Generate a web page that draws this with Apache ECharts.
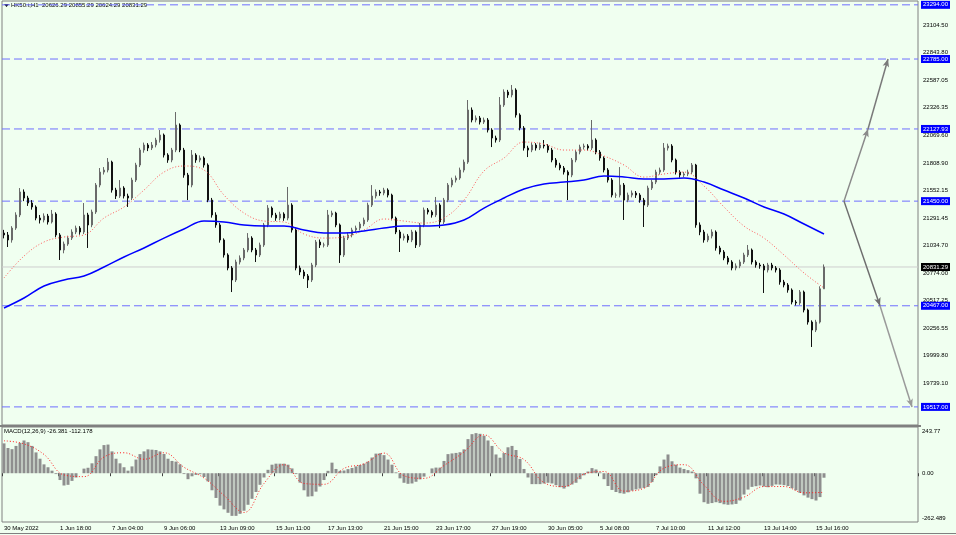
<!DOCTYPE html>
<html><head><meta charset="utf-8">
<script src="https://cdn.jsdelivr.net/npm/echarts@6/dist/echarts.min.js"></script>
<style>html,body{margin:0;padding:0;background:#f0fff0;}#c{width:956px;height:535px;}</style>
</head><body><div id="c"></div>
<script>
const symbolTitle = 'HK50.t,H1  20626.29 20855.29 20624.29 20831.29';
const macdTitle = 'MACD(12,26,9) -26.381 -112.178';
const timeLabels = ['30 May 2022','1 Jun 18:00','7 Jun 04:00','9 Jun 06:00','13 Jun 09:00','15 Jun 11:00','17 Jun 13:00','21 Jun 15:00','23 Jun 17:00','27 Jun 19:00','30 Jun 05:00','5 Jul 08:00','7 Jul 10:00','11 Jul 12:00','13 Jul 14:00','15 Jul 16:00'];
const timeLabelIdx = [0,14,27,40,54,68,81,95,108,122,136,149,163,176,190,203];
const slotCount = 229;
// [open, close, low, high]
const candles = [
[21150,21132,21100,21180],[21132,21085,21019,21160],[21085,21197,21060,21215],[21197,21320,21180,21345],[21320,21536,21300,21573],
[21536,21479,21450,21560],[21479,21432,21405,21500],[21432,21395,21370,21460],[21395,21291,21270,21410],[21291,21273,21240,21320],
[21273,21310,21250,21335],[21310,21254,21230,21330],[21254,21329,21240,21367],[21329,21132,21110,21345],[21132,20991,20897,21150],
[20991,21047,20960,21070],[21047,21103,21030,21125],[21103,21160,21085,21185],[21160,21197,21140,21220],[21197,21160,21135,21215],
[21160,21320,21140,21432],[21320,21226,21010,21340],[21226,21348,21205,21370],[21348,21601,21330,21620],[21601,21723,21580,21761],
[21723,21742,21700,21770],[21742,21817,21720,21855],[21817,21554,21530,21830],[21554,21498,21470,21575],[21498,21573,21480,21648],
[21573,21498,21475,21590],[21498,21479,21395,21520],[21479,21648,21460,21670],[21648,21789,21630,21810],[21789,21930,21770,21950],
[21930,21977,21905,22000],[21977,21949,21920,21995],[21949,21977,21930,22005],[21977,22024,21955,22045],[22024,22071,22000,22118],
[22071,21883,21860,22085],[21883,21836,21810,21900],[21836,21930,21815,21950],[21930,22165,21910,22287],[22165,21930,21910,22180],
[21930,21695,21670,21950],[21695,21601,21460,21715],[21601,21883,21580,21930],[21883,21836,21810,21900],[21836,21855,21815,21880],
[21855,21789,21765,21870],[21789,21460,21440,21805],[21460,21320,21295,21480],[21320,21226,21200,21345],[21226,21085,21060,21245],
[21085,20944,20920,21100],[20944,20822,20800,20960],[20822,20709,20596,20840],[20709,20878,20690,20900],[20878,20916,20855,20940],
[20916,20991,20895,21010],[20991,21103,20970,21150],[21103,20991,20970,21120],[20991,20944,20878,21010],[20944,21038,20925,21060],
[21038,21226,21020,21245],[21226,21385,21205,21413],[21385,21320,21295,21400],[21320,21291,21265,21340],[21291,21329,21270,21350],
[21329,21291,21265,21345],[21291,21413,21270,21583],[21413,21179,21155,21430],[21179,20822,20800,21195],[20822,20784,20755,20845],
[20784,20747,20720,20805],[20747,20709,20634,20765],[20709,20850,20690,20870],[20850,21066,20830,21085],[21066,21038,21010,21090],
[21038,21038,21015,21060],[21038,21320,21020,21367],[21320,21338,21300,21360],[21338,21226,21205,21350],[21226,20944,20869,21240],
[20944,21103,20925,21125],[21103,21132,21085,21155],[21132,21179,21110,21200],[21179,21197,21160,21220],[21197,21235,21175,21255],
[21235,21273,21215,21295],[21273,21413,21255,21435],[21413,21498,21395,21601],[21498,21536,21475,21560],[21536,21526,21500,21555],
[21526,21554,21505,21575],[21554,21507,21485,21570],[21507,21291,21270,21520],[21291,21160,21140,21305],[21160,21103,20972,21180],
[21103,21122,21080,21145],[21122,21085,21060,21140],[21085,21160,21065,21180],[21160,21038,21010,21175],[21038,21226,21020,21245],
[21226,21367,21205,21390],[21367,21348,21325,21385],[21348,21320,21295,21365],[21320,21413,21300,21489],[21413,21254,21197,21430],
[21254,21460,21235,21480],[21460,21601,21440,21620],[21601,21648,21580,21670],[21648,21667,21625,21690],[21667,21742,21650,21765],
[21742,21817,21720,21840],[21817,22306,21800,22400],[22306,22212,22190,22330],[22212,22231,22190,22255],[22231,22193,22170,22250],
[22193,22212,22175,22235],[22212,22118,22095,22230],[22118,22043,21958,22135],[22043,22024,22000,22065],[22024,22353,22005,22428],
[22353,22475,22335,22500],[22475,22447,22420,22495],[22447,22494,22425,22541],[22494,22259,22235,22510],[22259,22137,22115,22275],
[22137,21949,21925,22155],[21949,21930,21864,21970],[21930,21977,21910,22000],[21977,21949,21925,21995],[21949,21977,21930,22000],
[21977,21968,21945,22024],[21968,21930,21905,21985],[21930,21836,21815,21950],[21836,21789,21765,21855],[21789,21761,21740,21810],
[21761,21723,21700,21780],[21723,21695,21460,21740],[21695,21836,21675,21855],[21836,21911,21815,21930],[21911,21958,21890,21980],
[21958,21968,21935,21990],[21968,21949,21925,21985],[21949,22024,21930,22212],[22024,21911,21890,22040],[21911,21855,21830,21930],
[21855,21742,21720,21870],[21742,21648,21625,21760],[21648,21507,21485,21665],[21507,21507,21480,21530],[21507,21601,21485,21770],
[21601,21460,21273,21620],[21460,21507,21440,21530],[21507,21526,21485,21550],[21526,21507,21480,21545],[21507,21460,21435,21525],
[21460,21413,21207,21480],[21413,21573,21395,21595],[21573,21629,21555,21650],[21629,21723,21610,21745],[21723,21742,21700,21765],
[21742,21949,21725,21996],[21949,21968,21925,21990],[21968,21836,21815,21985],[21836,21723,21700,21850],[21723,21695,21670,21740],
[21695,21705,21675,21725],[21705,21723,21685,21745],[21723,21789,21705,21808],[21789,21226,21200,21800],[21226,21160,21130,21250],
[21160,21085,21060,21180],[21085,21122,21065,21145],[21122,21160,21100,21185],[21160,21010,20985,21175],[21010,20972,20950,21030],
[20972,20916,20895,20990],[20916,20878,20855,20935],[20878,20822,20800,20895],[20822,20841,20800,20865],[20841,20878,20820,20900],
[20878,20944,20860,20965],[20944,20991,20925,21038],[20991,20878,20855,21005],[20878,20850,20825,20895],[20850,20841,20815,20870],
[20841,20803,20587,20860],[20803,20850,20780,20870],[20850,20822,20800,20870],[20822,20803,20780,20840],[20803,20690,20665,20820],
[20690,20662,20640,20710],[20662,20615,20590,20680],[20615,20502,20480,20630],[20502,20493,20470,20520],[20493,20596,20475,20615],
[20596,20427,20405,20610],[20427,20314,20290,20440],[20314,20239,20080,20330],[20239,20314,20220,20335],[20314,20626.29,20300,20650],
[20626.29,20831.29,20624.29,20855.29]
];
const maStep = 5;
const maFast = [20728,20934,21066,21113,21132,21291,21395,21554,21723,21780,21742,21507,21338,21263,21254,21141,21103,21113,21179,21282,21263,21244,21291,21460,21733,21855,22005,21986,21930,21930,21874,21789,21676,21705,21723,21592,21395,21216,21103,20944,20775,20634];
const maSlow = [20446,20540,20653,20709,20747,20831,20925,21010,21103,21188,21263,21254,21226,21216,21216,21179,21150,21150,21169,21197,21216,21216,21226,21273,21385,21479,21564,21611,21629,21648,21686,21677,21658,21658,21667,21629,21554,21479,21395,21329,21235,21141];
const macdHist = [175,148,141,160,178,192,182,160,122,85,52,35,15,-5,-40,-72,-68,-45,-25,0,
27,32,58,100,140,165,168,128,85,58,35,15,40,80,112,128,140,138,136,128,
113,85,72,68,52,-5,-35,-18,-10,-6,-22,-48,-100,-145,-190,-212,-232,-250,-250,-238,
-220,-185,-150,-110,-68,-25,20,50,56,56,56,50,28,-5,-55,-100,-137,-135,-108,-78,
-40,14,62,25,14,16,24,31,40,48,56,68,92,115,117,106,80,50,5,-30,
-56,-62,-60,-50,-36,-20,0,28,33,33,72,112,116,119,123,140,200,229,235,231,
220,192,160,110,91,118,152,160,136,84,25,-25,-64,-64,-64,-60,-56,-60,-70,-82,
-90,-78,-66,-56,-35,-12,10,30,22,5,-35,-75,-98,-110,-117,-120,-112,-102,-95,-90,
-86,-80,-52,-10,40,80,110,70,50,33,25,18,10,-30,-120,-170,-179,-175,-170,-175,
-182,-185,-183,-180,-160,-125,-96,-80,-76,-72,-78,-82,-74,-66,-67,-70,-75,-88,-100,-115,
-130,-143,-152,-160,-140,-26.381];
const macdSignal = [190,172,110,-10,-20,95,120,82,120,35,-28,-130,-230,-60,50,-60,-65,28,55,118,-15,-30,45,125,225,120,80,-55,-78,-5,10,-105,-88,30,50,-70,-165,-140,-78,-78,-115,-112.178];
const priceTicks = [23104.50,22843.80,22587.05,22326.35,22069.60,21808.90,21552.15,21291.45,21034.70,20774.00,20517.25,20256.55,19999.80,19739.10];
const macdTicks = [243.77,0,-262.489];
const macdTickText = ['243.77','0.00','-262.489'];
const levels = [23294.00,22785.00,22127.93,21450.00,20467.00,19517.00];
const lastPrice = 20831.29;
// [fromIndex, fromPrice, toIndex, toPrice, shade]
const arrows = [[210,21450,216,22127.93,'#8a8a8a'],[216,22127.93,221,22785,'#7a7a7a'],[210,21450,219,20467,'#6e6e6e'],[219,20467,227,19517,'#9a9a9a']];

const cats = new Array(slotCount).fill('');
timeLabelIdx.forEach((idx,k)=>{cats[idx]=timeLabels[k];});
const labelSet = new Set(timeLabelIdx);
const FONT = 'Liberation Sans';

function hLine(v, color, dash, bg){
  return {type:'line',xAxisIndex:2,yAxisIndex:0,data:[[0,v],[1,v]],showSymbol:false,symbol:'none',silent:true,z:1,
    lineStyle:{color:color,width:1,type:dash},
    endLabel:{show:true,formatter:v.toFixed(2),backgroundColor:bg,color:'#fff',fontSize:6,padding:[1,2,1,2],distance:3,fontFamily:FONT}};
}

const chart = echarts.init(document.getElementById('c'), null, {renderer:'canvas'});
chart.setOption({
  animation:false,
  backgroundColor:'#f0fff0',
  textStyle:{fontFamily:FONT},
  grid:[
    {left:2,right:38,top:1,height:424,show:true,borderColor:'#808080',borderWidth:1,backgroundColor:'transparent'},
    {left:2,right:38,top:427,height:95,show:true,borderColor:'#808080',borderWidth:1,backgroundColor:'transparent'}
  ],
  xAxis:[
    {type:'category',gridIndex:0,data:cats,boundaryGap:true,axisLine:{show:false},axisTick:{show:false},axisLabel:{show:false},splitLine:{show:false}},
    {type:'category',gridIndex:1,data:cats,boundaryGap:true,axisLine:{show:false},
      axisTick:{show:true,interval:(i)=>labelSet.has(i),length:3,lineStyle:{color:'#404040'}},
      axisLabel:{show:true,interval:(i)=>labelSet.has(i),align:'left',fontSize:6,color:'#000',margin:3,fontFamily:FONT},
      splitLine:{show:false}},
    {type:'value',gridIndex:0,min:0,max:1,show:false}
  ],
  yAxis:[
    {type:'value',gridIndex:0,position:'right',min:19347,max:23330,splitLine:{show:false},axisLine:{show:false},
      axisTick:{show:false},
      axisLabel:{customValues:priceTicks,formatter:(v)=>v.toFixed(2),fontSize:6,color:'#000',margin:5,fontFamily:FONT}},
    {type:'value',gridIndex:1,position:'right',min:-286,max:271,splitLine:{show:false},axisLine:{show:false},
      axisTick:{show:false},
      axisLabel:{customValues:macdTicks,formatter:(v)=>{const k=macdTicks.indexOf(v);return k>=0?macdTickText[k]:'';},fontSize:6,color:'#000',margin:4,fontFamily:FONT}}
  ],
  series:[
    hLine(lastPrice,'#cfcfcf','solid','#000'),
    ...levels.map(v=>hLine(v,'#6f6fff',[8,4],'#0000ff')),
    {type:'candlestick',xAxisIndex:0,yAxisIndex:0,data:candles,barWidth:2,z:2,
      itemStyle:{color:'#a8a8a8',borderColor:'#6a6a6a',color0:'#111',borderColor0:'#111',borderWidth:1}},
    {type:'line',xAxisIndex:0,yAxisIndex:0,data:maFast.map((v,k)=>[k*maStep,v]),showSymbol:false,smooth:0.4,
      lineStyle:{color:'#ff5a5a',width:1,type:[1,2]},z:3},
    {type:'line',xAxisIndex:0,yAxisIndex:0,data:maSlow.map((v,k)=>[k*maStep,v]),showSymbol:false,smooth:0.4,
      lineStyle:{color:'#0000ff',width:1.5},z:3},
    {type:'line',xAxisIndex:0,yAxisIndex:0,data:[],showSymbol:false,
      markLine:{silent:true,animation:false,symbol:['none','arrow'],symbolSize:[5,8],label:{show:false},
        data:arrows.map(a=>[{coord:[a[0],a[1]],lineStyle:{color:a[4],width:1.5,type:'solid'}},{coord:[a[2],a[3]]}])}},
    {type:'bar',xAxisIndex:1,yAxisIndex:1,data:macdHist,barWidth:3,itemStyle:{color:'#8e8e8e'}},
    {type:'line',xAxisIndex:1,yAxisIndex:1,data:macdSignal.map((v,k)=>[k*maStep,v]),showSymbol:false,smooth:0.4,
      lineStyle:{color:'#ff2020',width:1,type:[1,2]},z:3}
  ],
  graphic:[
    {type:'polygon',shape:{points:[[4,4],[9,4],[6.5,7]]},style:{fill:'#000'}},
    {type:'text',left:11,top:2,style:{text:symbolTitle,fontSize:6,fill:'#000',fontFamily:FONT}},
    {type:'text',left:4,top:428,style:{text:macdTitle,fontSize:6,fill:'#000',fontFamily:FONT}},
    {type:'line',shape:{x1:0,y1:533.5,x2:956,y2:533.5},style:{stroke:'#808080',lineWidth:1}},
    {type:'line',shape:{x1:0,y1:426,x2:921,y2:426},style:{stroke:'#808080',lineWidth:2}}
  ]
});
</script></body></html>
